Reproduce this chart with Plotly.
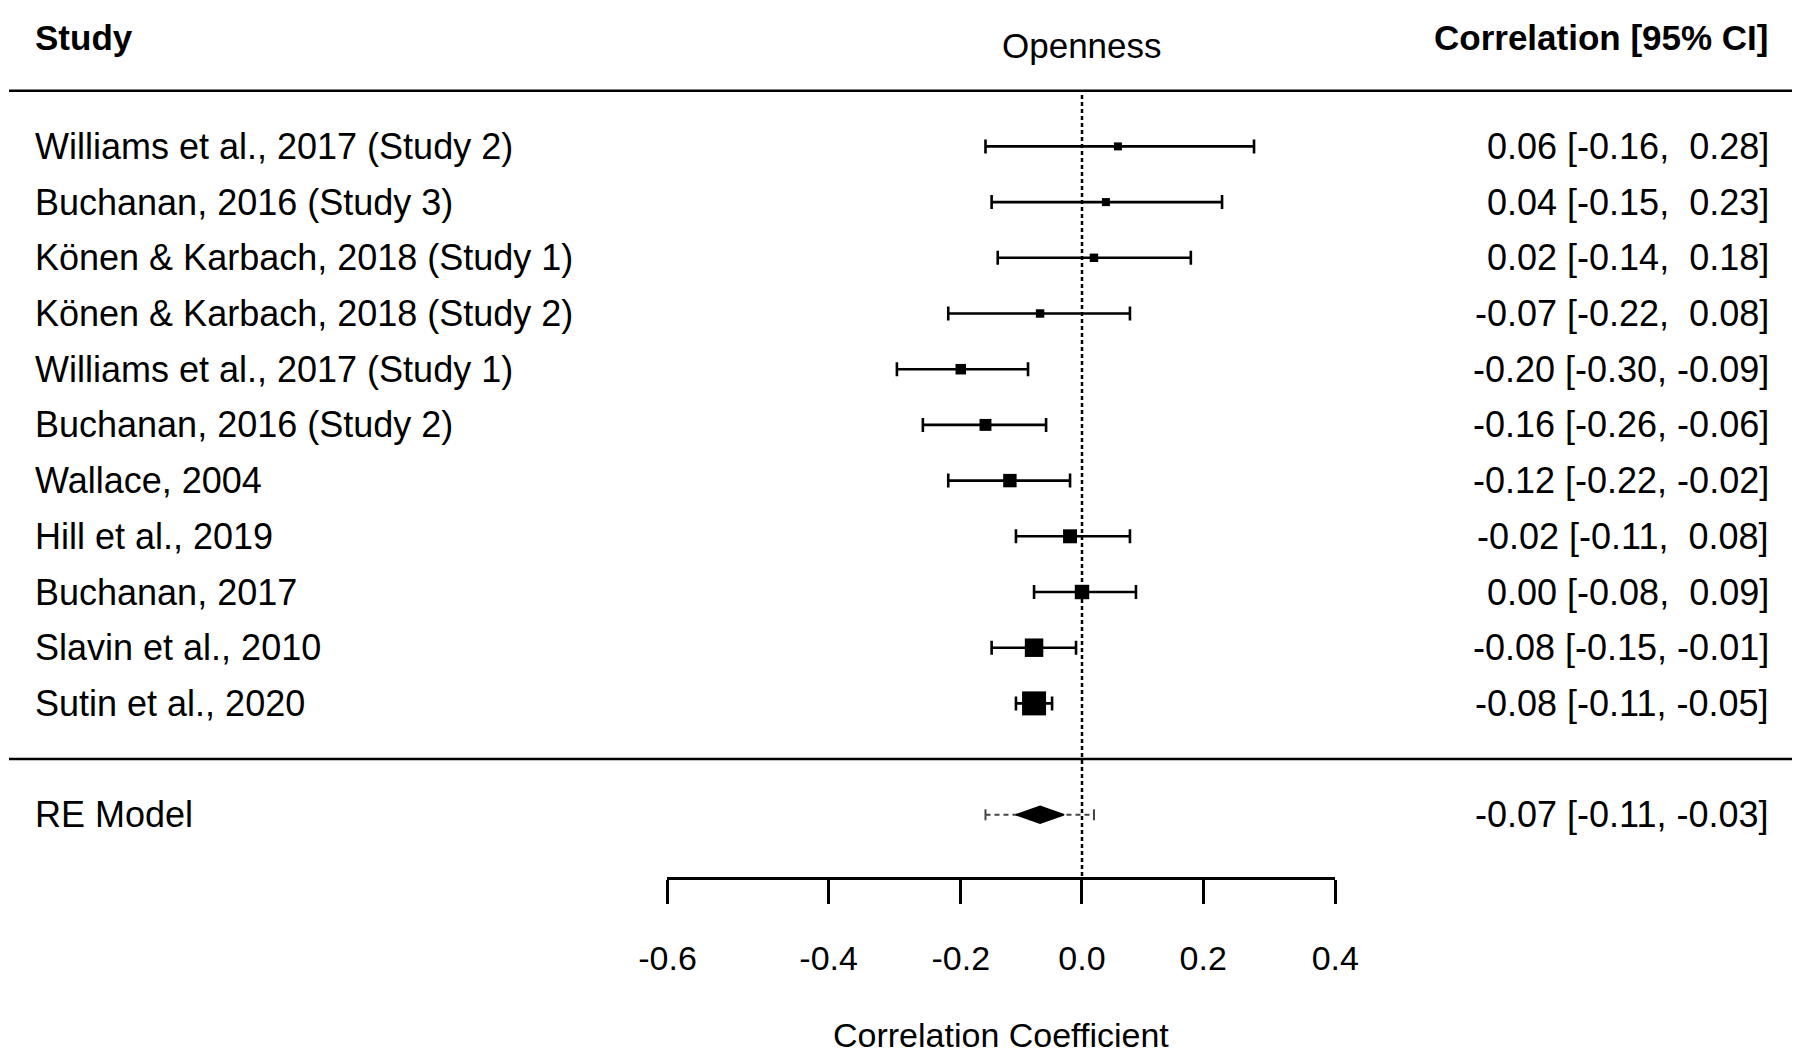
import numpy as np
import plotly.graph_objects as go

# ---------------- data ----------------
studies = [
    "Williams et al., 2017 (Study 2)",
    "Buchanan, 2016 (Study 3)",
    "Könen & Karbach, 2018 (Study 1)",
    "Könen & Karbach, 2018 (Study 2)",
    "Williams et al., 2017 (Study 1)",
    "Buchanan, 2016 (Study 2)",
    "Wallace, 2004",
    "Hill et al., 2019",
    "Buchanan, 2017",
    "Slavin et al., 2010",
    "Sutin et al., 2020",
]
r_est = [0.06, 0.04, 0.02, -0.07, -0.20, -0.16, -0.12, -0.02, 0.00, -0.08, -0.08]
ci_lo = [-0.16, -0.15, -0.14, -0.22, -0.30, -0.26, -0.22, -0.11, -0.08, -0.15, -0.11]
ci_hi = [0.28, 0.23, 0.18, 0.08, -0.09, -0.06, -0.02, 0.08, 0.09, -0.01, -0.05]
weights = [5.0, 5.0, 5.4, 5.4, 7.2, 8.4, 9.7, 10.2, 10.6, 14.1, 18.9]  # % (estimated)

re_label = "RE Model"
re_est, re_lo, re_hi = -0.07, -0.11, -0.03
pi_lo, pi_hi = -0.16, 0.02

tick_r = [-0.6, -0.4, -0.2, 0.0, 0.2, 0.4]
title_text = "Openness"
xaxis_title = "Correlation Coefficient"
col_left = "Study"
col_right = "Correlation [95% CI]"

# ---------------- layout constants ----------------
OFF = 8                              # page body margin of the browser
W, H = 1800 - 2 * OFF, 1062 - 2 * OFF
X0PX, PXU = 1082.0 - OFF, 598.0      # figure pixel of z=0, pixels per z unit
Y0PX, ROWPX = 90.7 - OFF, 55.7       # figure pixel of row 0 (top rule), pixels per row
FONT = "Liberation Sans, Arial, Helvetica, sans-serif"

xrange = [-X0PX / PXU, (W - X0PX) / PXU]
yrange = [(H - Y0PX) / ROWPX, -Y0PX / ROWPX]


def row_of(screen_px):
    return (screen_px - OFF - Y0PX) / ROWPX


def xpaper(screen_px):
    return (screen_px - OFF) / W


def ypaper(screen_px):
    return 1 - (screen_px - OFF) / H


n = len(studies)
rows = list(range(1, n + 1))
sep_row = n + 1
re_row = n + 2
axis_row = row_of(878)

z_est = np.arctanh(np.array(r_est))
z_lo = np.arctanh(np.array(ci_lo))
z_hi = np.arctanh(np.array(ci_hi))

w = np.array(weights)
sizes = 8 + 16 * (w - w.min()) / (w.max() - w.min())

fig = go.Figure()

# zero reference line
fig.add_trace(go.Scatter(
    x=[0, 0], y=[row_of(95), axis_row], mode="lines",
    line=dict(color="black", width=2.5, dash="4px,3px"),
    hoverinfo="skip", showlegend=False))

# study estimates with CIs
fig.add_trace(go.Scatter(
    x=z_est, y=rows, mode="markers",
    marker=dict(symbol="square", size=sizes, color="black", opacity=1,
                line=dict(width=0)),
    error_x=dict(type="data", symmetric=False,
                 array=z_hi - z_est, arrayminus=z_est - z_lo,
                 thickness=2.6, width=7, color="black"),
    hoverinfo="skip", showlegend=False))

# prediction interval (dashed) with caps
zpl, zph = np.arctanh(pi_lo), np.arctanh(pi_hi)
fig.add_trace(go.Scatter(
    x=[zpl, zph], y=[re_row, re_row], mode="lines",
    line=dict(color="#444444", width=2, dash="5px,4px"),
    hoverinfo="skip", showlegend=False))
cap = 5.5 / ROWPX
fig.add_trace(go.Scatter(
    x=[zpl, zpl, None, zph, zph],
    y=[re_row - cap, re_row + cap, None, re_row - cap, re_row + cap],
    mode="lines", line=dict(color="#444444", width=2),
    hoverinfo="skip", showlegend=False))

# summary diamond
zr, zrl, zrh = np.arctanh(re_est), np.arctanh(re_lo), np.arctanh(re_hi)
hh = 8.5 / ROWPX
fig.add_trace(go.Scatter(
    x=[zrl, zr, zrh, zr, zrl], y=[re_row, re_row - hh, re_row, re_row + hh, re_row],
    mode="lines", fill="toself", fillcolor="black",
    line=dict(color="black", width=1.5),
    hoverinfo="skip", showlegend=False))

# invisible trace to attach the visible axis
tick_z = np.arctanh(np.array(tick_r))
fig.add_trace(go.Scatter(
    x=tick_z, y=[axis_row] * len(tick_z), xaxis="x2", yaxis="y",
    mode="markers", marker=dict(opacity=0), hoverinfo="skip", showlegend=False))

# rules
for r in [0, sep_row]:
    fig.add_shape(type="line", xref="paper", yref="y",
                  x0=xpaper(9), x1=1, y0=r, y1=r,
                  line=dict(color="black", width=2.5))

# text
ann = []
txt_font = dict(family=FONT, size=36, color="black")
for i, s in enumerate(studies):
    ann.append(dict(x=xpaper(33), xref="paper", y=rows[i], yref="y", text=s,
                    xanchor="left", yanchor="middle", showarrow=False, font=txt_font))
    lab = f"{r_est[i]:.2f} [{ci_lo[i]:5.2f}, {ci_hi[i]:5.2f}]".replace("  ", " \u00a0")
    ann.append(dict(x=xpaper(1771), xref="paper", y=rows[i], yref="y", text=lab,
                    xanchor="right", yanchor="middle", showarrow=False, font=txt_font))

ann.append(dict(x=xpaper(33), xref="paper", y=re_row, yref="y", text=re_label,
                xanchor="left", yanchor="middle", showarrow=False, font=txt_font))
re_lab = f"{re_est:.2f} [{re_lo:5.2f}, {re_hi:5.2f}]".replace("  ", " \u00a0")
ann.append(dict(x=xpaper(1771), xref="paper", y=re_row, yref="y", text=re_lab,
                xanchor="right", yanchor="middle", showarrow=False, font=txt_font))

hdr_font = dict(family=FONT, size=35, color="black")
ann.append(dict(x=xpaper(33), xref="paper", y=row_of(37), yref="y", text=f"<b>{col_left}</b>",
                xanchor="left", yanchor="middle", showarrow=False, font=hdr_font))
ann.append(dict(x=xpaper(1771), xref="paper", y=row_of(37), yref="y", text=f"<b>{col_right}</b>",
                xanchor="right", yanchor="middle", showarrow=False, font=hdr_font))
ann.append(dict(x=0, xref="x", y=row_of(45), yref="y", text=title_text,
                xanchor="center", yanchor="middle", showarrow=False, font=hdr_font))

ax_lo_px = X0PX + tick_z[0] * PXU
ax_hi_px = X0PX + tick_z[-1] * PXU
ann.append(dict(x=(ax_lo_px + ax_hi_px) / 2 / W, xref="paper", y=ypaper(1035), yref="paper",
                text=xaxis_title, xanchor="center", yanchor="middle", showarrow=False,
                font=dict(family=FONT, size=34, color="black")))

fig.update_layout(
    width=W, height=H,
    margin=dict(l=0, r=0, t=0, b=0, pad=0, autoexpand=False),
    paper_bgcolor="white", plot_bgcolor="rgba(0,0,0,0)",
    showlegend=False,
    annotations=ann,
    xaxis=dict(range=xrange, visible=False, fixedrange=True),
    yaxis=dict(range=yrange, visible=False, fixedrange=True),
    xaxis2=dict(
        domain=[ax_lo_px / W, ax_hi_px / W],
        range=[tick_z[0], tick_z[-1]],
        anchor="free", position=ypaper(878), side="bottom",
        showline=True, linecolor="black", linewidth=2.5,
        ticks="outside", ticklen=24, tickwidth=2.5, tickcolor="black",
        tickvals=list(tick_z), ticktext=[f"{t:.1f}" for t in tick_r],
        tickfont=dict(family=FONT, size=34, color="black"),
        ticklabelstandoff=25,
        showgrid=False, zeroline=False, fixedrange=True,
    ),
)

fig.write_html("out.html")
